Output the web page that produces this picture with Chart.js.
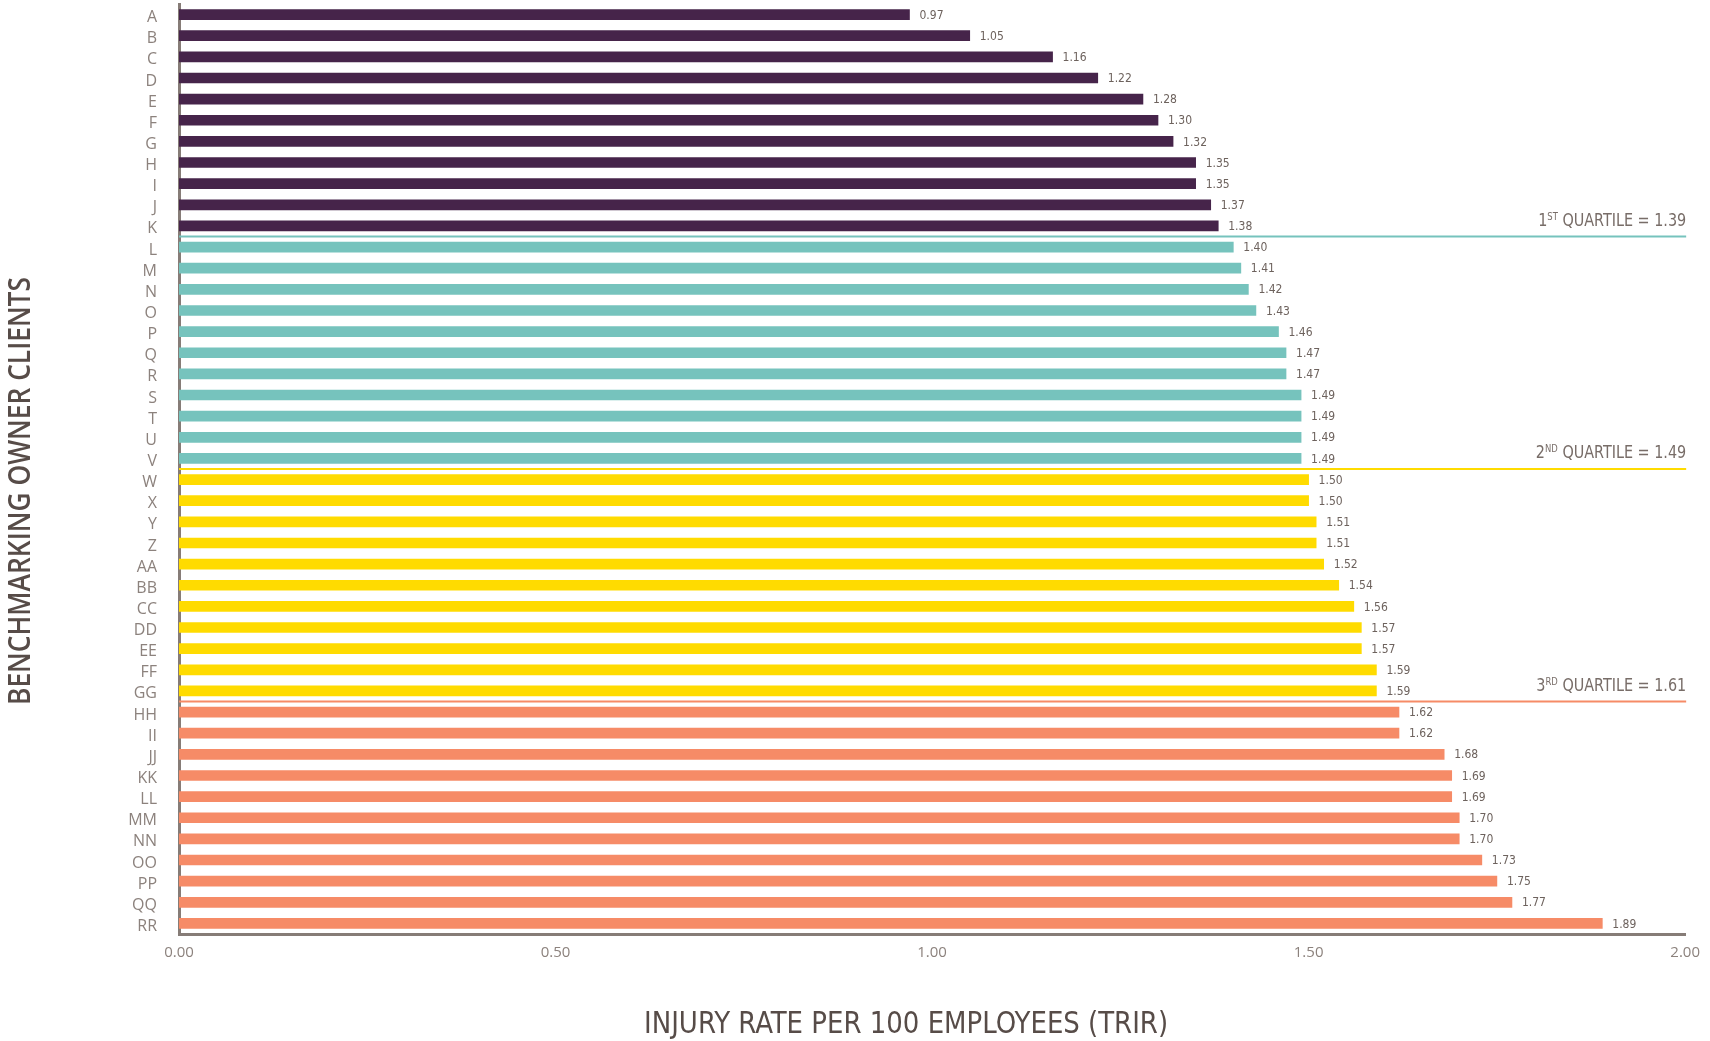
<!DOCTYPE html>
<html>
<head>
<meta charset="utf-8">
<title>Injury rate per 100 employees</title>
<script src="https://cdn.jsdelivr.net/npm/chart.js@4.4.1/dist/chart.umd.min.js"></script>
<style>
    html, body { margin: 0; padding: 0; background: #ffffff; }
    #wrap { width: 1710px; height: 1041px; position: relative; }
</style>
</head>
<body>
<div id="wrap"><canvas id="trir"></canvas></div>
<script>
// ===== Data =====

const CLIENTS = [
    'A', 'B', 'C', 'D', 'E', 'F', 'G', 'H', 'I', 'J', 'K',
    'L', 'M', 'N', 'O', 'P', 'Q', 'R', 'S', 'T', 'U', 'V',
    'W', 'X', 'Y', 'Z', 'AA', 'BB', 'CC', 'DD', 'EE', 'FF', 'GG',
    'HH', 'II', 'JJ', 'KK', 'LL', 'MM', 'NN', 'OO', 'PP', 'QQ', 'RR'
];

const TRIR = [
    0.97, 1.05, 1.16, 1.22, 1.28, 1.30, 1.32, 1.35, 1.35, 1.37, 1.38,
    1.40, 1.41, 1.42, 1.43, 1.46, 1.47, 1.47, 1.49, 1.49, 1.49, 1.49,
    1.50, 1.50, 1.51, 1.51, 1.52, 1.54, 1.56, 1.57, 1.57, 1.59, 1.59,
    1.62, 1.62, 1.68, 1.69, 1.69, 1.70, 1.70, 1.73, 1.75, 1.77, 1.89
];

const QUARTILES = [1.39, 1.49, 1.61];
const QUARTILE_NUM = ['1', '2', '3'];
const QUARTILE_SUFFIX = ['ST', 'ND', 'RD'];

const X_MIN = 0;
const X_MAX = 2;
const X_STEP = 0.5;

const X_TITLE = 'INJURY RATE PER 100 EMPLOYEES (TRIR)';
const Y_TITLE = 'BENCHMARKING OWNER CLIENTS';

// ===== Styles =====

const GROUP_COLORS = ['#46244a', '#76c3bd', '#ffdb00', '#f68b67'];
const AXIS_COLOR = '#867c77';
const TICK_COLOR = '#8c827d';
const VALUE_COLOR = '#6d625d';
const NOTE_COLOR = '#786d68';
const TITLE_COLOR = '#574c48';
const COND = "'DejaVu Sans Condensed', 'Liberation Sans Narrow', sans-serif";
const PLAIN = "'Open Sans', 'Noto Sans', sans-serif";

function groupOf(v) {
    for (let i = 0; i < QUARTILES.length; i++) {
        if (v <= QUARTILES[i]) return i;
    }
    return QUARTILES.length;
}

const barColors = TRIR.map(v => GROUP_COLORS[groupOf(v)]);

// draw text squeezed/stretched to a given width
function fitText(ctx, text, x, y, width) {
    const w = ctx.measureText(text).width;
    ctx.save();
    ctx.translate(x, y);
    ctx.scale(width / w, 1);
    ctx.textAlign = 'center';
    ctx.fillText(text, 0, 0);
    ctx.restore();
}

// value labels at the end of each bar
const valueLabels = {
    id: 'valueLabels',
    afterDatasetsDraw(chart) {
        const ctx = chart.ctx;
        const meta = chart.getDatasetMeta(0);
        ctx.save();
        ctx.font = '12px ' + COND;
        ctx.fillStyle = VALUE_COLOR;
        ctx.textAlign = 'left';
        ctx.textBaseline = 'middle';
        meta.data.forEach((bar, i) => {
            ctx.fillText(TRIR[i].toFixed(2), bar.x + 10, bar.y + 1);
        });
        ctx.restore();
    }
};

// quartile separators between the groups
const quartileLines = {
    id: 'quartileLines',
    afterDatasetsDraw(chart) {
        const ctx = chart.ctx;
        const xs = chart.scales.x;
        const ys = chart.scales.y;
        const x0 = xs.getPixelForValue(X_MIN);
        const x1 = xs.getPixelForValue(X_MAX);
        QUARTILES.forEach((q, qi) => {
            let last = -1;
            TRIR.forEach((v, i) => { if (v <= q) last = i; });
            if (last < 0 || last >= TRIR.length - 1) return;
            const y = (ys.getPixelForValue(last) + ys.getPixelForValue(last + 1)) / 2;

            ctx.save();
            ctx.strokeStyle = GROUP_COLORS[qi + 1];
            ctx.lineWidth = 2;
            ctx.beginPath();
            ctx.moveTo(x0, y);
            ctx.lineTo(x1 + 1, y);
            ctx.stroke();

            // label, right aligned, "1ST QUARTILE = 1.39"
            const big = '17px ' + COND;
            const small = '10px ' + COND;
            const tail = ' QUARTILE = ' + q.toFixed(2);
            ctx.fillStyle = NOTE_COLOR;
            ctx.textBaseline = 'alphabetic';
            ctx.font = big;
            const wNum = ctx.measureText(QUARTILE_NUM[qi]).width;
            const wTail = ctx.measureText(tail).width;
            ctx.font = small;
            const wSuf = ctx.measureText(QUARTILE_SUFFIX[qi]).width;
            const base = y - 11;
            const squeeze = 0.94;
            const total = (wNum + wSuf + wTail) * squeeze;
            ctx.translate(x1 + 1 - total, base);
            ctx.scale(squeeze, 1);
            let x = 0;
            ctx.font = big;
            ctx.textAlign = 'left';
            ctx.fillText(QUARTILE_NUM[qi], x, 0);
            x += wNum;
            ctx.font = small;
            ctx.fillText(QUARTILE_SUFFIX[qi], x, -6);
            x += wSuf;
            ctx.font = big;
            ctx.fillText(tail, x, 0);
            ctx.restore();
        });
    }
};

// axis titles
const axisTitles = {
    id: 'axisTitles',
    afterDraw(chart) {
        const ctx = chart.ctx;
        const area = chart.chartArea;
        ctx.save();
        ctx.fillStyle = TITLE_COLOR;
        ctx.textBaseline = 'middle';

        ctx.font = '31px ' + COND;
        fitText(ctx, X_TITLE, area.left + (area.right - area.left) / 2 - 26, 1025, 524);

        ctx.translate(21, 491);
        ctx.rotate(-Math.PI / 2);
        ctx.font = '600 30px ' + PLAIN;
        fitText(ctx, Y_TITLE, 0, 0, 428);
        ctx.restore();
    }
};

new Chart(document.getElementById('trir'), {
    type: 'bar',
    data: {
        labels: CLIENTS,
        datasets: [{
            label: 'TRIR',
            data: TRIR,
            backgroundColor: barColors,
            borderWidth: 0,
            barThickness: 10
        }]
    },
    plugins: [valueLabels, quartileLines, axisTitles],
    options: {
        indexAxis: 'y',
        responsive: true,
        maintainAspectRatio: false,
        animation: false,
        layout: { padding: { top: 4, right: 20, bottom: 0, left: 0 } },
        plugins: {
            legend: { display: false },
            tooltip: { enabled: false }
        },
        scales: {
            x: {
                min: X_MIN,
                max: X_MAX,
                ticks: {
                    stepSize: X_STEP,
                    color: TICK_COLOR,
                    font: { family: PLAIN, size: 15 },
                    padding: 10,
                    callback: v => Number(v).toFixed(2)
                },
                grid: { display: false, drawTicks: false },
                border: { display: true, color: AXIS_COLOR, width: 3 },
                afterFit: scale => { scale.height = 107; }
            },
            y: {
                ticks: {
                    color: TICK_COLOR,
                    // small lineHeight keeps the axis from padding its top edge
                    font: { family: PLAIN, size: 16, lineHeight: 0.5 },
                    padding: 0,
                    labelOffset: 3,
                    autoSkip: false
                },
                // tick marks are hidden; their length only spaces the labels
                grid: { display: false, drawTicks: true, tickLength: 22 },
                border: { display: true, color: AXIS_COLOR, width: 3 },
                afterFit: scale => { scale.width = 179; }
            }
        }
    }
});
</script>
</body>
</html>
